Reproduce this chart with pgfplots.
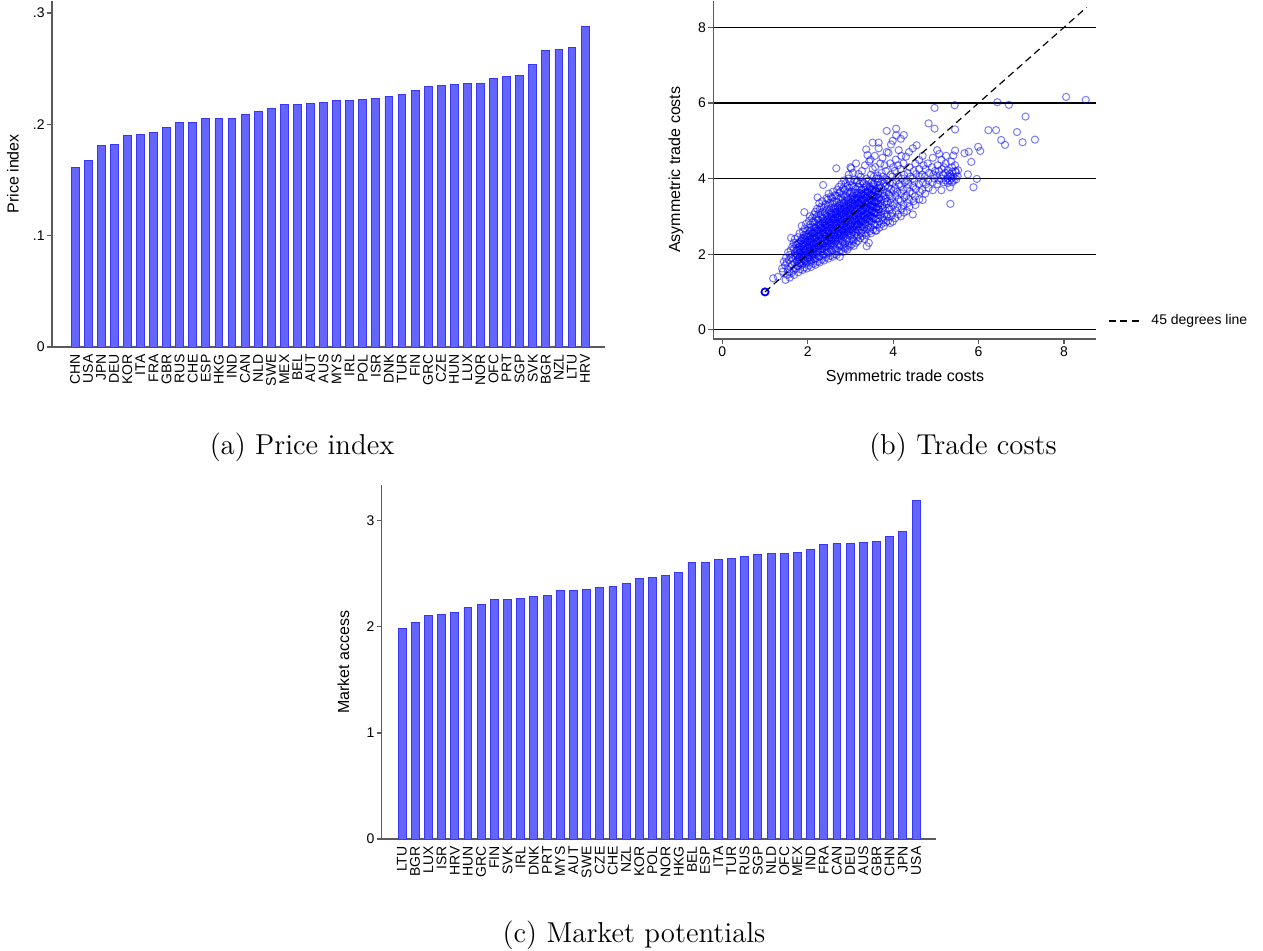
\documentclass[border=0pt]{standalone}
\usepackage{fontspec}
\usepackage{pgfplots}
\usepackage{pgfplotstable}
\pgfplotsset{compat=1.18}
\newfontfamily\arial{Liberation Sans}
\definecolor{barfill}{RGB}{100,100,255}
\definecolor{baredge}{RGB}{55,55,245}
\definecolor{axgray}{RGB}{90,90,90}

\pgfplotstableread{
x y
0 0.161
1 0.168
2 0.181
3 0.182
4 0.190
5 0.191
6 0.193
7 0.197
8 0.202
9 0.202
10 0.205
11 0.2055
12 0.2055
13 0.209
14 0.212
15 0.2145
16 0.218
17 0.218
18 0.219
19 0.220
20 0.2217
21 0.2217
22 0.2226
23 0.2235
24 0.2253
25 0.227
26 0.2307
27 0.2343
28 0.235
29 0.236
30 0.237
31 0.237
32 0.2415
33 0.2433
34 0.244
35 0.254
36 0.2667
37 0.2676
38 0.269
39 0.288
}\priceidx

\pgfplotstableread{
x y
0 1.986
1 2.042
2 2.108
3 2.117
4 2.136
5 2.183
6 2.212
7 2.259
8 2.259
9 2.268
10 2.287
11 2.297
12 2.344
13 2.344
14 2.353
15 2.372
16 2.381
17 2.410
18 2.457
19 2.466
20 2.485
21 2.510
22 2.608
23 2.608
24 2.636
25 2.645
26 2.664
27 2.683
28 2.692
29 2.692
30 2.702
31 2.730
32 2.777
33 2.787
34 2.787
35 2.796
36 2.806
37 2.853
38 2.900
39 3.192
}\marketacc

\pgfplotsset{stata/.style={
  scale only axis,
  axis x line*=bottom, axis y line*=left,
  axis line style={axgray, line width=0.7pt},
  tick align=outside,
  major tick length=2.5pt,
  tick style={axgray, line width=0.6pt},
  tick label style={font=\arial\fontsize{7}{8}\selectfont},
  label style={font=\arial\fontsize{8}{9}\selectfont},
  /pgf/number format/assume math mode=true,
}}

\begin{document}
\begin{tikzpicture}
\useasboundingbox (0pt,0pt) rectangle (631.5pt,-475pt);

% (a) Price index
\begin{axis}[stata, at={(26pt,-173.5pt)}, anchor=south west,
  width=276.5pt, height=173.25pt,
  xmin=-1.76, xmax=40.53, ymin=0, ymax=0.3113,
  ybar, bar width=0.6,
  xtick=data,
  xticklabels={CHN,USA,JPN,DEU,KOR,ITA,FRA,GBR,RUS,CHE,ESP,HKG,IND,CAN,NLD,SWE,MEX,BEL,AUT,AUS,MYS,IRL,POL,ISR,DNK,TUR,FIN,GRC,CZE,HUN,LUX,NOR,OFC,PRT,SGP,SVK,BGR,NZL,LTU,HRV},
  xtick style={draw=none},
  xticklabel style={rotate=90, anchor=east, inner sep=1pt},
  ytick={0,0.1,0.2,0.3}, yticklabels={0,.1,.2,.3},
  yticklabel style={inner sep=1pt},
  ylabel={Price index},
  ylabel style={at={(axis description cs:-0.0705,0.5)}, anchor=center},
]
\addplot[fill=barfill, draw=baredge, line width=0.4pt] table {\priceidx};
\end{axis}

% (b) Trade costs
\begin{axis}[stata, at={(356.65pt,-169.5pt)}, anchor=south west,
  width=191.35pt, height=169.25pt,
  xmin=-0.211, xmax=8.75, ymin=-0.246, ymax=8.71,
  xtick={0,2,4,6,8}, ytick={0,2,4,6,8},
  xticklabel style={inner sep=1pt},
  yticklabel style={inner sep=1pt},
  ymajorgrids, grid style={black, line width=0.6pt},
  xlabel={Symmetric trade costs},
  xlabel style={at={(axis description cs:0.501,-0.112)}, anchor=center},
  ylabel={Asymmetric trade costs},
  ylabel style={at={(axis description cs:-0.0975,0.5)}, anchor=center},
]
\addplot[only marks, mark=o, mark size=1.8pt,
  mark options={draw=blue, draw opacity=0.52, line width=0.5pt}] coordinates {
(1.19,1.36)(1.30,1.40)(1.42,1.54)(1.40,1.62)(1.44,1.80)
(1.48,1.32)(1.47,1.70)(1.49,1.90)
(1.52,1.45)(1.53,1.60)(1.51,1.78)(1.54,2.05)
(1.58,1.38)(1.57,1.52)(1.59,1.66)(1.56,1.85)(1.58,1.98)(1.60,2.10)
(1.62,1.50)(1.63,1.72)(1.61,1.90)(1.61,2.43)(1.64,2.20)
(1.68,1.45)(1.67,1.58)(1.69,1.76)(1.66,1.88)(1.70,2.02)(1.68,2.15)(1.67,2.30)
(1.72,1.62)(1.74,1.81)(1.71,1.95)(1.73,2.10)(1.72,2.25)(1.70,2.40)
(1.78,1.52)(1.77,1.68)(1.79,1.85)(1.76,1.98)(1.80,2.12)(1.78,2.28)(1.77,2.45)
(1.82,1.60)(1.84,1.75)(1.81,1.92)(1.83,2.05)(1.82,2.20)(1.84,2.35)(1.81,2.55)
(1.88,1.58)(1.87,1.72)(1.89,1.86)(1.86,2.00)(1.90,2.14)(1.88,2.28)(1.87,2.42)(1.89,2.60)(1.86,2.75)
(1.92,1.65)(1.94,1.80)(1.91,1.95)(1.93,2.08)(1.92,2.22)(1.94,2.36)(1.91,2.50)(1.93,2.68)(1.92,3.11)
(1.98,1.62)(1.97,1.76)(1.99,1.90)(1.96,2.04)(2.00,2.18)(1.98,2.32)(1.97,2.46)(1.99,2.62)(1.96,2.80)
(2.03,1.70)(2.05,1.84)(2.02,1.98)(2.04,2.12)(2.03,2.26)(2.05,2.40)(2.02,2.55)(2.04,2.70)(2.03,2.88)(2.05,3.00)
(2.08,1.66)(2.07,1.80)(2.09,1.94)(2.06,2.08)(2.10,2.22)(2.08,2.36)(2.07,2.50)(2.09,2.64)(2.06,2.78)(2.10,2.95)
(2.13,1.75)(2.15,1.88)(2.12,2.02)(2.14,2.16)(2.13,2.30)(2.15,2.44)(2.12,2.58)(2.14,2.72)(2.13,2.86)(2.15,3.05)
(2.18,1.72)(2.17,1.86)(2.19,2.00)(2.16,2.14)(2.20,2.28)(2.18,2.42)(2.17,2.56)(2.19,2.70)(2.16,2.84)(2.20,2.98)(2.18,3.12)
(2.23,1.80)(2.25,1.94)(2.22,2.08)(2.24,2.22)(2.23,2.36)(2.25,2.50)(2.22,2.64)(2.24,2.78)(2.23,2.92)(2.25,3.06)(2.22,3.20)(2.23,3.50)
(2.28,1.78)(2.27,1.92)(2.29,2.06)(2.26,2.20)(2.30,2.34)(2.28,2.48)(2.27,2.62)(2.29,2.76)(2.26,2.90)(2.30,3.04)(2.28,3.18)(2.27,3.35)
(2.33,1.86)(2.35,2.00)(2.32,2.14)(2.34,2.28)(2.33,2.42)(2.35,2.56)(2.32,2.70)(2.34,2.84)(2.33,2.98)(2.35,3.12)(2.32,3.26)(2.34,3.40)
(2.38,1.83)(2.37,1.97)(2.39,2.11)(2.36,2.25)(2.40,2.39)(2.38,2.53)(2.37,2.67)(2.39,2.81)(2.36,2.95)(2.40,3.09)(2.38,3.23)(2.36,3.83)
(2.43,1.92)(2.45,2.06)(2.42,2.20)(2.44,2.34)(2.43,2.48)(2.45,2.62)(2.42,2.76)(2.44,2.90)(2.43,3.04)(2.45,3.18)(2.42,3.32)(2.44,3.48)
(2.48,1.88)(2.47,2.02)(2.49,2.16)(2.46,2.30)(2.50,2.44)(2.48,2.58)(2.47,2.72)(2.49,2.86)(2.46,3.00)(2.50,3.14)(2.48,3.28)(2.47,3.44)(2.49,3.60)
(2.53,1.96)(2.55,2.10)(2.52,2.24)(2.54,2.38)(2.53,2.52)(2.55,2.66)(2.52,2.80)(2.54,2.94)(2.53,3.08)(2.55,3.22)(2.52,3.36)(2.54,3.52)
(2.58,1.93)(2.57,2.07)(2.59,2.21)(2.56,2.35)(2.60,2.49)(2.58,2.63)(2.57,2.77)(2.59,2.91)(2.56,3.05)(2.60,3.19)(2.58,3.33)(2.57,3.48)(2.59,3.65)
(2.63,2.00)(2.65,2.14)(2.62,2.28)(2.64,2.42)(2.63,2.56)(2.65,2.70)(2.62,2.84)(2.64,2.98)(2.63,3.12)(2.65,3.26)(2.62,3.40)(2.64,3.56)(2.67,4.27)
(2.68,1.98)(2.67,2.12)(2.69,2.26)(2.66,2.40)(2.70,2.54)(2.68,2.68)(2.67,2.82)(2.69,2.96)(2.66,3.10)(2.70,3.24)(2.68,3.38)(2.67,3.54)(2.69,3.70)
(2.75,1.93)(2.73,2.06)(2.75,2.20)(2.72,2.34)(2.74,2.48)(2.73,2.62)(2.75,2.76)(2.72,2.90)(2.74,3.04)(2.73,3.18)(2.75,3.32)(2.72,3.46)(2.74,3.62)(2.73,3.78)
(2.78,2.10)(2.77,2.24)(2.79,2.38)(2.76,2.52)(2.80,2.66)(2.78,2.80)(2.77,2.94)(2.79,3.08)(2.76,3.22)(2.80,3.36)(2.78,3.50)(2.77,3.66)(2.79,3.85)
(2.83,2.06)(2.85,2.18)(2.82,2.32)(2.84,2.46)(2.83,2.60)(2.85,2.74)(2.82,2.88)(2.84,3.02)(2.83,3.16)(2.85,3.30)(2.82,3.44)(2.84,3.58)(2.83,3.74)(2.85,3.95)
(2.88,2.15)(2.87,2.28)(2.89,2.42)(2.86,2.56)(2.90,2.70)(2.88,2.84)(2.87,2.98)(2.89,3.12)(2.86,3.26)(2.90,3.40)(2.88,3.54)(2.87,3.70)(2.89,3.88)
(2.93,2.12)(2.95,2.24)(2.92,2.38)(2.94,2.52)(2.93,2.66)(2.95,2.80)(2.92,2.94)(2.94,3.08)(2.93,3.22)(2.95,3.36)(2.92,3.50)(2.94,3.64)(2.93,3.80)(2.95,4.00)
(2.98,2.20)(2.97,2.34)(2.99,2.48)(2.96,2.62)(3.00,2.76)(2.98,2.90)(2.97,3.04)(2.99,3.18)(2.96,3.32)(3.00,3.46)(2.98,3.60)(2.97,3.76)(2.99,3.92)(2.96,4.10)(3.00,4.30)
(3.03,2.26)(3.05,2.40)(3.02,2.54)(3.04,2.68)(3.03,2.82)(3.05,2.96)(3.02,3.10)(3.04,3.24)(3.03,3.38)(3.05,3.52)(3.02,3.66)(3.04,3.82)(3.02,4.27)
(3.08,2.22)(3.07,2.36)(3.09,2.50)(3.06,2.64)(3.10,2.78)(3.08,2.92)(3.07,3.06)(3.09,3.20)(3.06,3.34)(3.10,3.48)(3.08,3.62)(3.07,3.78)(3.09,3.96)(3.06,4.15)
(3.13,2.30)(3.15,2.44)(3.12,2.58)(3.14,2.72)(3.13,2.86)(3.15,3.00)(3.12,3.14)(3.14,3.28)(3.13,3.42)(3.15,3.56)(3.12,3.72)(3.14,3.90)(3.13,4.40)
(3.18,2.35)(3.17,2.50)(3.19,2.64)(3.16,2.78)(3.20,2.92)(3.18,3.06)(3.17,3.20)(3.19,3.34)(3.16,3.48)(3.20,3.62)(3.18,3.78)(3.17,3.95)(3.19,4.12)
(3.23,2.42)(3.25,2.56)(3.22,2.70)(3.24,2.84)(3.23,2.98)(3.25,3.12)(3.22,3.26)(3.24,3.40)(3.23,3.54)(3.25,3.70)(3.22,3.86)(3.24,4.05)
(3.28,2.48)(3.27,2.62)(3.29,2.76)(3.26,2.90)(3.30,3.04)(3.28,3.18)(3.27,3.32)(3.29,3.46)(3.26,3.60)(3.30,3.76)(3.28,3.92)(3.27,4.20)
(3.33,2.40)(3.35,2.55)(3.32,2.70)(3.34,2.84)(3.33,2.98)(3.35,3.12)(3.32,3.26)(3.34,3.40)(3.33,3.55)(3.35,3.70)(3.32,3.88)(3.34,4.35)(3.40,4.62)
(3.38,2.21)(3.37,2.50)(3.39,2.66)(3.36,2.80)(3.40,2.94)(3.38,3.08)(3.37,3.22)(3.39,3.36)(3.36,3.50)(3.40,3.66)(3.38,3.82)(3.37,4.00)(3.37,4.77)
(3.43,2.30)(3.45,2.60)(3.42,2.75)(3.44,2.90)(3.43,3.04)(3.45,3.18)(3.42,3.32)(3.44,3.46)(3.43,3.62)(3.45,3.78)(3.42,3.95)(3.44,4.45)
(3.48,2.55)(3.47,2.70)(3.49,2.86)(3.46,3.00)(3.50,3.14)(3.48,3.28)(3.47,3.42)(3.49,3.58)(3.46,3.74)(3.50,3.90)(3.48,4.10)(3.47,4.50)
(3.53,2.65)(3.55,2.80)(3.52,2.95)(3.54,3.10)(3.53,3.25)(3.52,3.32)(3.55,3.40)(3.52,3.55)(3.54,3.70)(3.53,3.86)(3.55,4.05)(3.52,4.25)(3.52,4.95)
(3.58,2.62)(3.57,2.76)(3.59,2.92)(3.56,3.08)(3.60,3.22)(3.58,3.38)(3.57,3.52)(3.59,3.68)(3.56,3.84)(3.60,4.00)(3.58,4.30)(3.57,4.60)
(3.61,2.62)(3.63,2.78)(3.65,2.94)(3.62,3.10)(3.64,3.26)(3.63,3.42)(3.65,3.58)(3.62,3.74)(3.64,3.90)(3.63,4.08)(3.66,4.80)(3.66,4.95)
(3.68,2.70)(3.67,2.86)(3.69,3.02)(3.66,3.18)(3.70,3.34)(3.68,3.50)(3.67,3.66)(3.69,3.82)(3.66,4.00)(3.70,4.40)
(3.73,2.80)(3.75,2.96)(3.72,3.12)(3.74,3.28)(3.73,3.44)(3.75,3.60)(3.72,3.76)(3.74,3.94)(3.73,4.15)(3.75,4.55)
(3.78,2.74)(3.77,2.90)(3.79,3.06)(3.76,3.22)(3.80,3.38)(3.78,3.54)(3.77,3.70)(3.79,3.88)(3.76,4.05)(3.80,4.35)
(3.83,2.84)(3.85,3.00)(3.82,3.16)(3.84,3.32)(3.83,3.48)(3.85,3.64)(3.82,3.80)(3.84,3.98)(3.83,4.20)(3.85,4.70)
(3.88,2.88)(3.87,3.05)(3.89,3.22)(3.86,3.40)(3.90,3.58)(3.88,3.76)(3.87,3.95)(3.89,4.68)(3.85,5.26)
(3.93,2.82)(3.95,3.00)(3.92,3.18)(3.94,3.36)(3.93,3.54)(3.95,3.72)(3.92,3.90)(3.94,4.10)(3.93,4.40)(3.95,4.90)
(3.99,2.86)(3.98,3.08)(4.00,3.28)(3.97,3.48)(4.01,3.68)(3.99,3.88)(3.98,4.05)(4.00,4.30)(3.99,5.00)
(4.05,2.95)(4.07,3.15)(4.04,3.35)(4.06,3.55)(4.05,3.75)(4.07,3.95)(4.04,4.20)(4.06,4.50)(4.07,5.32)(4.07,5.14)
(4.12,3.05)(4.11,3.25)(4.13,3.45)(4.10,3.65)(4.14,3.85)(4.12,4.05)(4.11,4.35)(4.13,4.75)
(4.18,3.00)(4.20,3.20)(4.17,3.40)(4.19,3.60)(4.18,3.80)(4.20,4.00)(4.17,4.25)(4.19,4.60)(4.18,5.05)
(4.25,3.10)(4.24,3.30)(4.26,3.50)(4.23,3.70)(4.27,3.90)(4.25,4.10)(4.24,4.40)(4.25,5.15)
(4.32,3.14)(4.34,3.35)(4.31,3.55)(4.33,3.75)(4.32,3.95)(4.34,4.15)(4.30,4.58)
(4.38,3.25)(4.37,3.45)(4.39,3.65)(4.36,3.85)(4.40,4.05)(4.38,4.30)(4.37,4.70)
(4.46,3.05)(4.48,3.40)(4.45,3.60)(4.47,3.80)(4.46,4.00)(4.48,4.20)(4.46,4.80)
(4.52,3.30)(4.51,3.52)(4.53,3.72)(4.50,3.92)(4.54,4.12)(4.52,4.40)(4.55,4.88)
(4.61,3.45)(4.63,3.65)(4.60,3.85)(4.62,4.05)(4.61,4.25)(4.61,4.49)
(4.69,3.43)(4.68,3.70)(4.70,3.90)(4.67,4.10)(4.71,4.35)(4.69,4.60)
(4.75,3.60)(4.77,3.85)(4.74,4.05)(4.76,4.25)
(4.83,3.75)(4.82,3.95)(4.84,4.15)(4.81,4.40)(4.83,5.46)
(4.93,3.69)(4.92,3.90)(4.94,4.10)(4.91,4.30)(4.93,4.55)
(4.97,4.00)(4.98,4.20)(4.97,5.32)(4.97,5.87)
(5.03,3.85)(5.02,4.08)(5.04,4.35)(5.03,4.75)
(5.08,3.95)(5.07,4.20)(5.08,4.65)
(5.13,3.69)(5.12,4.00)(5.14,4.25)(5.13,4.50)
(5.18,3.90)(5.17,4.10)(5.19,4.30)
(5.23,3.95)(5.22,4.15)(5.23,4.40)(5.24,4.60)
(5.28,3.88)(5.27,4.00)(5.29,4.08)(5.28,4.22)
(5.34,3.33)(5.33,3.77)(5.32,3.95)(5.34,4.05)(5.33,4.12)
(5.38,3.90)(5.37,4.00)(5.39,4.18)(5.38,4.30)(5.36,4.45)
(5.41,4.61)(5.42,3.95)(5.41,4.05)
(5.45,4.35)(5.45,4.74)(5.45,5.30)(5.44,5.94)(5.46,4.20)
(5.47,4.16)(5.48,3.98)(5.51,4.06)(5.52,4.22)
(5.67,4.67)(5.75,4.11)(5.77,4.71)(5.83,4.44)(5.88,3.77)(5.96,3.99)(5.99,4.84)(6.04,4.73)
(6.23,5.28)(6.41,5.28)(6.44,6.02)(6.53,5.02)(6.62,4.89)(6.71,5.95)(6.90,5.23)(7.03,4.96)
(7.10,5.64)(7.32,5.03)(8.05,6.16)(8.51,6.08)
(1.75,1.69)(1.76,1.83)(1.75,1.97)(1.76,2.11)(1.75,2.25)
(1.85,1.79)(1.86,1.93)(1.85,2.07)(1.86,2.21)(1.85,2.35)
(1.95,1.83)(1.96,1.97)(1.95,2.11)(1.96,2.25)(1.95,2.39)(1.96,2.51)
(2.05,1.91)(2.06,2.05)(2.05,2.19)(2.06,2.33)(2.05,2.47)(2.06,2.61)
(2.15,1.99)(2.16,2.13)(2.15,2.27)(2.16,2.41)(2.15,2.55)(2.16,2.69)
(2.25,2.07)(2.26,2.21)(2.25,2.35)(2.26,2.49)(2.25,2.63)(2.26,2.77)
(2.35,2.14)(2.36,2.28)(2.35,2.42)(2.36,2.56)(2.35,2.70)(2.36,2.84)
(2.45,2.21)(2.46,2.35)(2.45,2.49)(2.46,2.63)(2.45,2.77)(2.46,2.91)
(2.55,2.28)(2.56,2.42)(2.55,2.56)(2.56,2.70)(2.55,2.84)(2.56,2.98)(2.55,3.10)
(2.65,2.35)(2.66,2.49)(2.65,2.63)(2.66,2.77)(2.65,2.91)(2.66,3.05)(2.65,3.19)
(2.75,2.43)(2.76,2.57)(2.75,2.71)(2.76,2.85)(2.75,2.99)(2.76,3.13)(2.75,3.27)
(2.85,2.51)(2.86,2.65)(2.85,2.79)(2.86,2.93)(2.85,3.07)(2.86,3.21)(2.85,3.35)
(2.95,2.59)(2.96,2.73)(2.95,2.87)(2.96,3.01)(2.95,3.15)(2.96,3.29)(2.95,3.43)
(3.05,2.59)(3.06,2.73)(3.05,2.87)(3.06,3.01)(3.05,3.15)(3.06,3.29)(3.05,3.43)(3.06,3.55)
(3.15,2.65)(3.16,2.79)(3.15,2.93)(3.16,3.07)(3.15,3.21)(3.16,3.35)(3.15,3.49)(3.16,3.61)
(3.25,2.73)(3.26,2.87)(3.25,3.01)(3.26,3.15)(3.25,3.29)(3.26,3.43)(3.25,3.57)(3.26,3.70)
(3.35,2.79)(3.36,2.93)(3.35,3.07)(3.36,3.21)(3.35,3.35)(3.36,3.49)(3.35,3.63)(3.36,3.77)
(3.45,2.87)(3.46,3.01)(3.45,3.15)(3.46,3.29)(3.45,3.43)(3.46,3.57)(3.45,3.71)
(3.55,2.95)(3.56,3.09)(3.55,3.23)(3.56,3.37)(3.55,3.51)(3.56,3.65)(3.55,3.79)
(3.65,3.05)(3.66,3.19)(3.65,3.33)(3.66,3.47)(3.65,3.61)(3.66,3.75)
(1.80,1.76)(1.80,1.90)(1.80,2.04)(1.80,2.18)(1.80,2.32)
(1.90,1.85)(1.90,1.99)(1.90,2.13)(1.90,2.27)(1.90,2.41)
(2.00,1.90)(2.00,2.04)(2.00,2.18)(2.00,2.32)(2.00,2.46)
(2.10,1.98)(2.10,2.12)(2.10,2.26)(2.10,2.40)(2.10,2.54)
(2.20,2.05)(2.20,2.19)(2.20,2.33)(2.20,2.47)(2.20,2.61)
(2.30,2.13)(2.30,2.27)(2.30,2.41)(2.30,2.55)(2.30,2.69)(2.30,2.80)
(2.40,2.20)(2.40,2.34)(2.40,2.48)(2.40,2.62)(2.40,2.76)(2.40,2.88)
(2.50,2.28)(2.50,2.42)(2.50,2.56)(2.50,2.70)(2.50,2.84)(2.50,2.98)
(2.60,2.35)(2.60,2.49)(2.60,2.63)(2.60,2.77)(2.60,2.91)(2.60,3.05)
(2.70,2.43)(2.70,2.57)(2.70,2.71)(2.70,2.85)(2.70,2.99)(2.70,3.13)
(2.80,2.50)(2.80,2.64)(2.80,2.78)(2.80,2.92)(2.80,3.06)(2.80,3.20)
(2.90,2.58)(2.90,2.72)(2.90,2.86)(2.90,3.00)(2.90,3.14)(2.90,3.28)
(3.00,2.65)(3.00,2.79)(3.00,2.93)(3.00,3.07)(3.00,3.21)(3.00,3.35)
(3.10,2.73)(3.10,2.87)(3.10,3.01)(3.10,3.15)(3.10,3.29)(3.10,3.43)
(3.20,2.80)(3.20,2.94)(3.20,3.08)(3.20,3.22)(3.20,3.36)(3.20,3.50)
(3.30,2.88)(3.30,3.02)(3.30,3.16)(3.30,3.30)(3.30,3.44)(3.30,3.58)
(3.40,2.95)(3.40,3.09)(3.40,3.23)(3.40,3.37)(3.40,3.51)(3.40,3.65)
(3.50,3.00)(3.50,3.14)(3.50,3.28)(3.50,3.42)(3.50,3.56)(3.50,3.70)
(3.60,3.10)(3.60,3.24)(3.60,3.38)(3.60,3.52)(3.60,3.66)
};
\addplot[only marks, mark=o, mark size=1.8pt,
  mark options={draw=blue, line width=0.9pt}] coordinates {(1,1)};
\end{axis}

% (b) overlay: 45 degrees line on top of the markers
\begin{axis}[scale only axis, at={(356.65pt,-169.5pt)}, anchor=south west,
  width=191.35pt, height=169.25pt,
  xmin=-0.211, xmax=8.75, ymin=-0.246, ymax=8.71,
  hide axis,
  legend style={at={(1.031,0.053)}, anchor=west, draw=none, fill=none,
    font=\arial\fontsize{7}{8}\selectfont, inner sep=0pt},
  legend cell align=left,
  legend image code/.code={\draw[#1] (0pt,0pt) -- (16.5pt,0pt); \path (19pt,0pt);},
]
\addplot[black, line width=0.6pt, dash pattern=on 3.5pt off 2.3pt] coordinates {(1,1) (8.53,8.53)};
\addlegendentry{45 degrees line}
\end{axis}

% (c) Market potentials
\begin{axis}[stata, at={(190.85pt,-419.5pt)}, anchor=south west,
  width=277.15pt, height=177pt,
  xmin=-1.54, xmax=40.52, ymin=0, ymax=3.336,
  ybar, bar width=0.6,
  xtick=data,
  xticklabels={LTU,BGR,LUX,ISR,HRV,HUN,GRC,FIN,SVK,IRL,DNK,PRT,MYS,AUT,SWE,CZE,CHE,NZL,KOR,POL,NOR,HKG,BEL,ESP,ITA,TUR,RUS,SGP,NLD,OFC,MEX,IND,FRA,CAN,DEU,AUS,GBR,CHN,JPN,USA},
  xtick style={draw=none},
  xticklabel style={rotate=90, anchor=east, inner sep=1pt},
  ytick={0,1,2,3}, yticklabels={0,1,2,3},
  yticklabel style={inner sep=1pt},
  ylabel={Market access},
  ylabel style={at={(axis description cs:-0.0693,0.5)}, anchor=center},
]
\addplot[fill=barfill, draw=baredge, line width=0.4pt] table {\marketacc};
\end{axis}

\node[font=\Large, inner sep=0pt] at (151pt,-223.5pt) {(a) Price index};
\node[font=\Large, inner sep=0pt] at (481.5pt,-223.5pt) {(b) Trade costs};
\node[font=\Large, inner sep=0pt] at (317pt,-467.5pt) {(c) Market potentials};
\end{tikzpicture}
\end{document}
